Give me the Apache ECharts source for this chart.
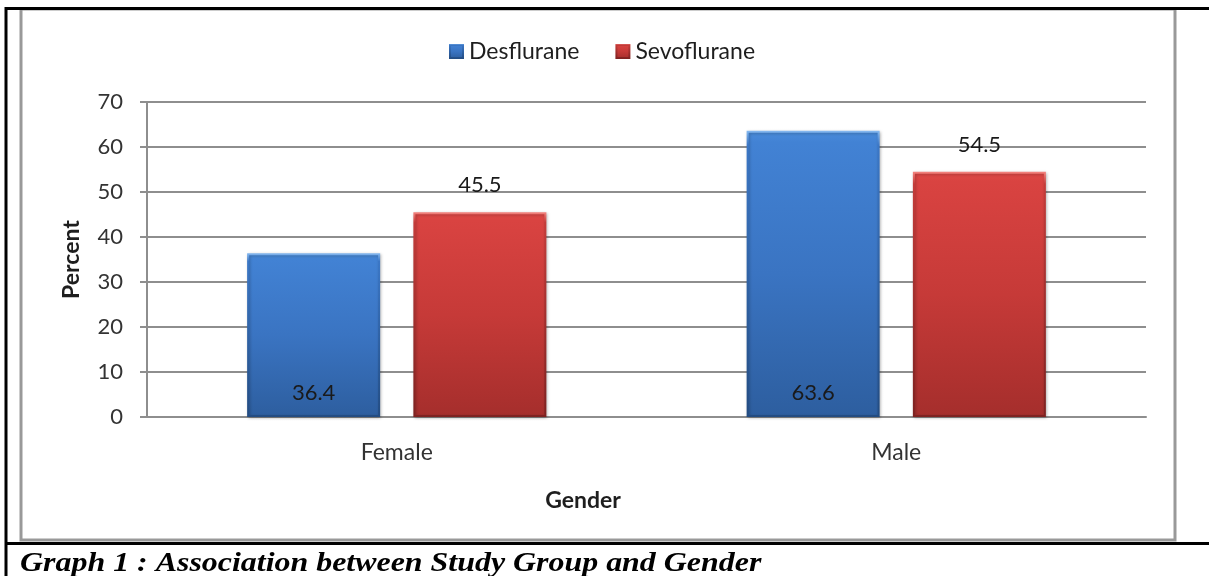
<!DOCTYPE html>
<html>
<head>
<meta charset="utf-8">
<style>
  html, body { margin: 0; padding: 0; background: #fff; }
  #chart { width: 1209px; height: 576px; }
</style>
<script src="https://cdn.jsdelivr.net/npm/echarts@6/dist/echarts.min.js"></script>
</head>
<body>
<div id="chart"></div>
<script>
// Study data: percentage of each gender within each anaesthetic group
const categories = ['Female', 'Male'];
const desflurane = [36.4, 63.6];
const sevoflurane = [45.5, 54.5];
const seriesNames = ['Desflurane', 'Sevoflurane'];
const yTicks = { min: 0, max: 70, interval: 10 };
const caption = 'Graph 1 : Association between Study Group and Gender';

const FONT = 'Lato, "Liberation Sans", sans-serif';
const GRID = '#8e8e8e';

function vGrad(stops) {
  return new echarts.graphic.LinearGradient(0, 0, 0, 1,
    stops.map(([o, c]) => ({ offset: o, color: c })));
}

const blueFill = vGrad([[0, '#4a8ddb'], [0.04, '#4282d4'], [0.5, '#3a74c2'], [1, '#2d5e9f']]);
const blueEdge = vGrad([[0, '#86b9f0'], [0.05, '#3b77c6'], [1, '#234c82']]);
const redFill = vGrad([[0, '#df4a47'], [0.04, '#d94341'], [0.5, '#c63a38'], [1, '#a52e2c']]);
const redEdge = vGrad([[0, '#f4847f'], [0.05, '#c43c3a'], [1, '#7e2221']]);

const chart = echarts.init(document.getElementById('chart'), null, { renderer: 'canvas' });

chart.setOption({
  backgroundColor: '#fff',
  animation: false,
  grid: { left: 147, right: 63, top: 102, bottom: 159, containLabel: false },
  legend: {
    data: seriesNames,
    left: 444, top: 35,
    itemWidth: 13, itemHeight: 13, itemGap: 36,
    icon: 'rect',
    textStyle: { fontFamily: FONT, fontSize: 23, color: '#1e1e1e', padding: [0, 0, 0, 1] }
  },
  xAxis: {
    type: 'category',
    data: categories,
    axisLine: { show: true, lineStyle: { color: GRID, width: 2 } },
    axisTick: { show: false },
    axisLabel: { fontFamily: FONT, fontSize: 23, color: '#333', margin: 24 }
  },
  yAxis: {
    type: 'value',
    min: yTicks.min, max: yTicks.max, interval: yTicks.interval,
    name: 'Percent',
    nameLocation: 'middle',
    nameRotate: 90,
    nameGap: 64,
    nameTextStyle: { fontFamily: FONT, fontSize: 23, fontWeight: 'bold', color: '#1e1e1e' },
    axisLine: { show: true, lineStyle: { color: GRID, width: 2 } },
    axisTick: { show: true, length: 7, lineStyle: { color: GRID, width: 2 } },
    splitLine: { show: true, lineStyle: { color: GRID, width: 2 } },
    axisLabel: { fontFamily: FONT, fontSize: 22, color: '#333', margin: 24 }
  },
  series: [
    {
      name: seriesNames[0],
      type: 'bar',
      data: desflurane,
      barWidth: 133,
      barGap: '25%',
      itemStyle: {
        color: blueFill,
        borderColor: blueEdge,
        borderWidth: 2,
        shadowColor: 'rgba(0,0,0,0.25)', shadowBlur: 3, shadowOffsetX: 1, shadowOffsetY: 1
      },
      label: {
        show: true, position: 'insideBottom', distance: 13,
        fontFamily: FONT, fontSize: 22, color: '#1a1a1a'
      }
    },
    {
      name: seriesNames[1],
      type: 'bar',
      data: sevoflurane,
      barWidth: 133,
      itemStyle: {
        color: redFill,
        borderColor: redEdge,
        borderWidth: 2,
        shadowColor: 'rgba(0,0,0,0.25)', shadowBlur: 3, shadowOffsetX: 1, shadowOffsetY: 1
      },
      label: {
        show: true, position: 'top', distance: 16,
        fontFamily: FONT, fontSize: 22, color: '#1a1a1a'
      }
    }
  ],
  graphic: [
    // chart frame
    { type: 'rect', shape: { x: 21, y: 9, width: 1154, height: 531 },
      style: { fill: 'none', stroke: '#999', lineWidth: 3 }, z: 1 },
    // page rules around the figure
    { type: 'line', shape: { x1: 5, y1: 8.5, x2: 1209, y2: 8.5 },
      style: { stroke: '#000', lineWidth: 3 }, z: 2 },
    { type: 'line', shape: { x1: 6, y1: 7, x2: 6, y2: 576 },
      style: { stroke: '#000', lineWidth: 3 }, z: 2 },
    { type: 'line', shape: { x1: 5, y1: 543.5, x2: 1209, y2: 543.5 },
      style: { stroke: '#000', lineWidth: 3 }, z: 2 },
    // x axis title
    { type: 'text', x: 583, y: 501,
      style: { text: 'Gender', fontFamily: FONT, fontSize: 23, fontWeight: 'bold',
               fill: '#1e1e1e', align: 'center', verticalAlign: 'middle' }, z: 3 },
    // figure caption
    { type: 'text', x: 20, y: 564, scaleX: 1.14,
      style: { text: caption, fontFamily: '"Liberation Serif", "Times New Roman", serif',
               fontSize: 28, fontWeight: 'bold', fontStyle: 'italic',
               fill: '#000', align: 'left', verticalAlign: 'middle' }, z: 3 }
  ]
});
</script>
</body>
</html>
